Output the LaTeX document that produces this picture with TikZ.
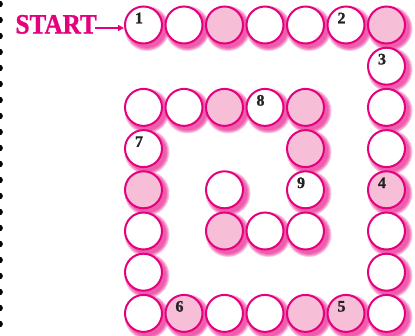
\documentclass[tikz,border=0pt]{standalone}
\usepackage{fontspec}
\setmainfont{Liberation Serif}
\newfontfamily\heavyfont[FakeBold=1.2]{Liberation Serif Bold}
\usetikzlibrary{arrows.meta}
\definecolor{mag}{RGB}{229,0,125}
\definecolor{pinkfill}{RGB}{247,190,216}
\definecolor{digit}{RGB}{34,34,34}
\tikzset{
  ball/.style={circle, draw=mag, line width=2pt, fill=white, minimum size=37pt, inner sep=0pt},
  pball/.style={ball, fill=pinkfill},
  num/.style={font=\heavyfont\fontsize{16}{16}\selectfont, text=digit, inner sep=0pt},
}
\begin{document}
\begin{tikzpicture}[x=1pt,y=-1pt]
\useasboundingbox (0,0) rectangle (415,335);
% binding dots
\foreach \k in {0,...,20} { \fill[black] (-0.5,{4+16*\k}) circle (3.4); }
\def\gx#1{143.5+40.5*#1}
\def\gy#1{25+41.2*#1}
\def\balls{
  0/0/ball/1, 1/0/ball/, 2/0/pball/, 3/0/ball/, 4/0/ball/, 5/0/ball/2, 6/0/pball/,
  6/1/ball/3,
  0/2/ball/, 1/2/ball/, 2/2/pball/, 3/2/ball/8, 4/2/pball/, 6/2/ball/,
  0/3/ball/7, 4/3/pball/, 6/3/ball/,
  0/4/pball/, 2/4/ball/, 4/4/ball/9, 6/4/pball/4,
  0/5/ball/, 2/5/pball/, 3/5/ball/, 4/5/ball/, 6/5/ball/,
  0/6/ball/, 6/6/ball/,
  0/7/ball/, 1/7/pball/6, 2/7/ball/, 3/7/ball/, 4/7/pball/, 5/7/pball/5, 6/7/ball/}
% soft shadows
\foreach \c/\r/\s/\t in \balls {
  \foreach \rad in {22.5,21.5,20.5,19.5} {
    \fill[mag, opacity=0.22] ({\gx{\c}+3.5},{\gy{\r}+3.5}) circle (\rad);
  }
}
% balls
\foreach \c/\r/\s/\t in \balls {
  \node[\s] (c\c\r) at ({\gx{\c}},{\gy{\r}}) {};
  \node[num] (n\c\r) at ([xshift=-4.5pt,yshift=7pt]c\c\r.center) {\t};
}
% START
\node[anchor=base east, inner sep=0pt, text=mag, font=\heavyfont\fontsize{28}{28}\selectfont, xscale=0.9] (start) at (97,33.5) {START};
\coordinate (as) at (95,28);
\draw[mag, line width=1.6pt, -{Triangle[length=6pt,width=6pt]}] (as) -- (as -| c00.west);
\end{tikzpicture}
\end{document}
